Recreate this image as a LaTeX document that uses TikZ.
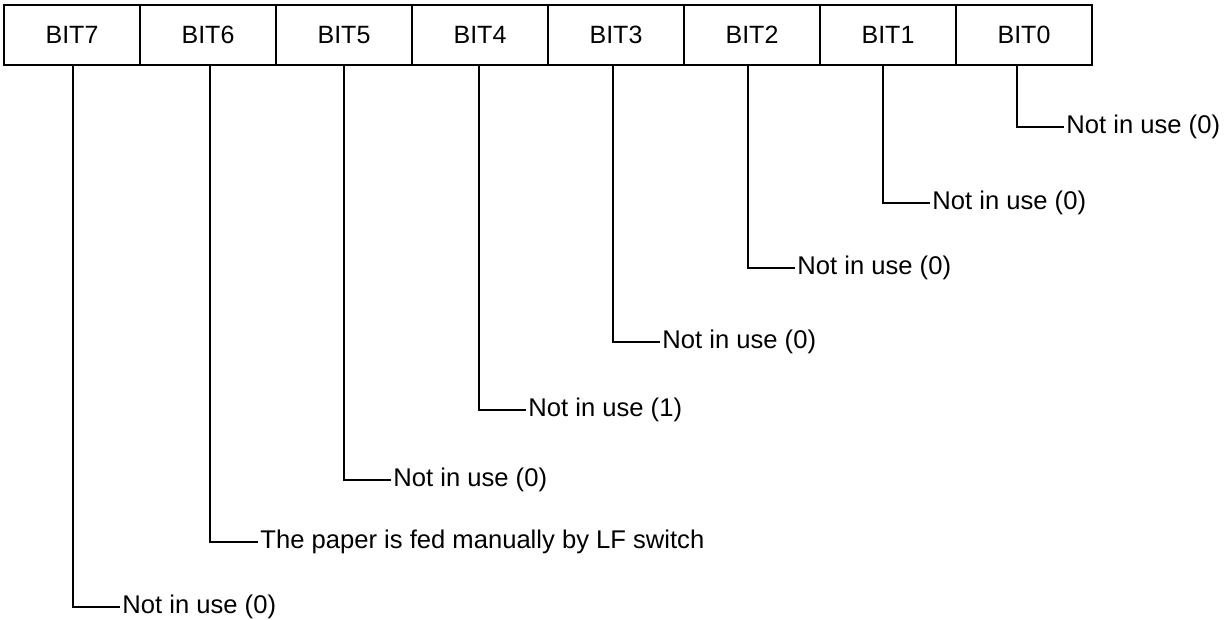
\documentclass[tikz,border=0pt]{standalone}
\usepackage{fontspec}
\setmainfont{Liberation Sans}
\usepackage{tikz}
\usetikzlibrary{positioning}

\tikzset{
	cell/.style={draw, line width=0.7pt, minimum width=68pt, minimum height=30pt, inner sep=0pt, font=\fontsize{12.5}{14}\selectfont},
	lbl/.style={anchor=west, inner sep=1pt, font=\fontsize{12.8}{14}\selectfont},
	lead/.style={line width=0.55pt}
}

\begin{document}
\begin{tikzpicture}[x=0.5pt,y=-0.5pt]
	\useasboundingbox (0,0) rectangle (1228,620);

	% register cells
	\node[cell] (b7) at (72,35) {BIT7};
	\node[cell] (b6) at (208,35) {BIT6};
	\node[cell] (b5) at (344,35) {BIT5};
	\node[cell] (b4) at (480,35) {BIT4};
	\node[cell] (b3) at (616,35) {BIT3};
	\node[cell] (b2) at (752,35) {BIT2};
	\node[cell] (b1) at (888,35) {BIT1};
	\node[cell] (b0) at (1024,35) {BIT0};

	% bit meanings
	\node[lbl] (l0) at (1064,127) {Not in use (0)};
	\node[lbl] (l1) at (930,203) {Not in use (0)};
	\node[lbl] (l2) at (795,268) {Not in use (0)};
	\node[lbl] (l3) at (660,342) {Not in use (0)};
	\node[lbl] (l4) at (526,410) {Not in use (1)};
	\node[lbl] (l5) at (391,480) {Not in use (0)};
	\node[lbl] (l6) at (258,542) {The paper is fed manually by LF switch};
	\node[lbl] (l7) at (120,607) {Not in use (0)};

	\draw[lead] ([xshift=-3.5pt]b0.south) |- (l0.west);
	\draw[lead] ([xshift=-2.5pt]b1.south) |- (l1.west);
	\draw[lead] ([xshift=-2pt]b2.south) |- (l2.west);
	\draw[lead] ([xshift=-1.5pt]b3.south) |- (l3.west);
	\draw[lead] ([xshift=-0.5pt]b4.south) |- (l4.west);
	\draw[lead] (b5.south) |- (l5.west);
	\draw[lead] ([xshift=1pt]b6.south) |- (l6.west);
	\draw[lead] ([xshift=0.5pt]b7.south) |- (l7.west);

\end{tikzpicture}
\end{document}
